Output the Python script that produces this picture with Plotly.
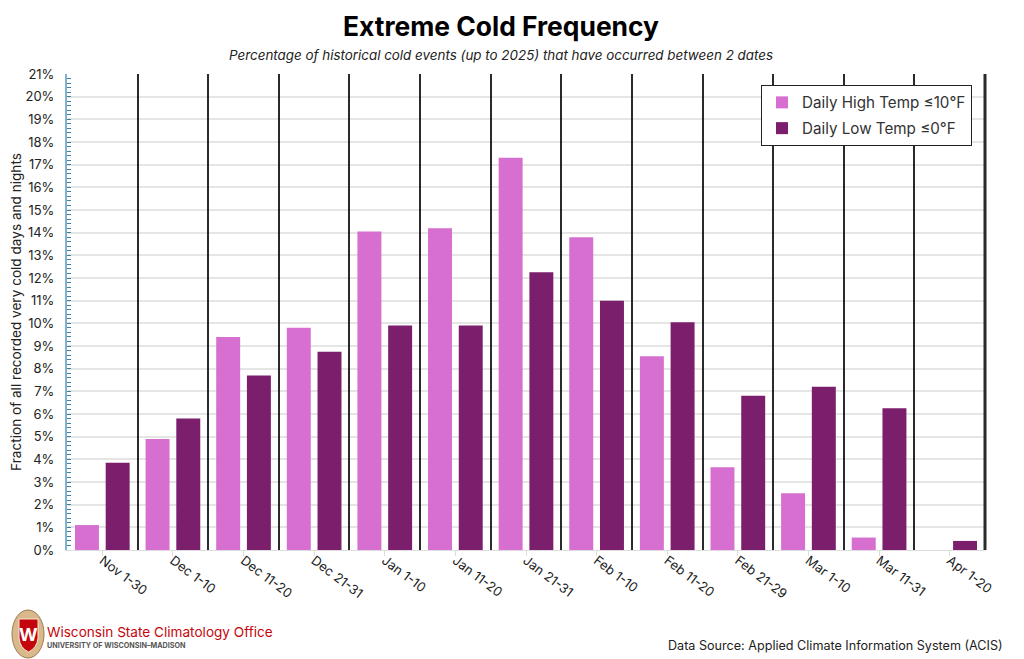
import plotly.graph_objects as go

categories = ["Nov 1-30","Dec 1-10","Dec 11-20","Dec 21-31","Jan 1-10","Jan 11-20","Jan 21-31","Feb 1-10","Feb 11-20","Feb 21-29","Mar 1-10","Mar 11-31","Apr 1-20"]
high_temp = [1.1,4.9,9.4,9.8,14.05,14.2,17.3,13.8,8.55,3.65,2.5,0.55,0]
low_temp = [3.85,5.8,7.7,8.75,9.9,9.9,12.25,11.0,10.05,6.8,7.2,6.25,0.4]
y_ticks = list(range(0,22))
y_labels = [f"{v}%" for v in y_ticks]
FONT = "Inter"
TEXT = "#222222"
xs = list(range(len(categories)))

# page pixel -> paper coordinate helpers for decoration placement
def px(x): return (x-67)/918
def py(y): return (550-y)/476

def note(text,x,y,size,color=TEXT,anchor="left"):
    return dict(text=text,xref="paper",yref="paper",x=px(x),y=py(y),xanchor=anchor,yanchor="middle",
                showarrow=False,font=dict(size=size,color=color,family=FONT),borderpad=0,borderwidth=0)

fig = go.Figure()
fig.add_bar(x=xs,y=high_temp,name="Daily High Temp ≤10°F",legendgroup="high",marker=dict(color="#d66fcf",line=dict(width=0)))
fig.add_bar(x=xs,y=low_temp,name="Daily Low Temp ≤0°F",legendgroup="low",marker=dict(color="#7b1f6d",line=dict(width=0)))

shield = "M {} {} L {} {} L {} {} Q {} {} {} {} Q {} {} {} {} Z".format(
    px(19),py(619),px(38),py(619),px(38),py(638),px(37),py(648),px(28.5),py(652),px(20),py(648),px(19),py(638))

shapes = [
    dict(type="line",xref="paper",yref="paper",x0=1,x1=1,y0=0,y1=1,line=dict(color="#2a2a2a",width=3)),
    dict(type="circle",xref="paper",yref="paper",x0=px(12),x1=px(44),y0=py(658),y1=py(610),fillcolor="#d9b98c",line=dict(color="#9c7b50",width=1)),
    dict(type="path",xref="paper",yref="paper",path=shield,fillcolor="#c5050c",line=dict(color="#f4e6cf",width=1)),
]

fig.update_layout(
    width=1016,height=651,autosize=False,margin=dict(l=59,r=39,t=66,b=109),
    paper_bgcolor="white",plot_bgcolor="white",
    barmode="group",bargap=0.13,bargroupgap=0.22,
    font=dict(family=FONT,color=TEXT,size=13),
    title=dict(text="<b>Extreme Cold Frequency</b>",x=(501-8)/1016,xanchor="center",y=1-(27-8)/651,yanchor="middle",font=dict(size=26.4,color="black",family=FONT)),
    legend=dict(x=px(761),y=py(85),xanchor="left",yanchor="top",bordercolor="#222",borderwidth=1,bgcolor="white",font=dict(size=15.2,color="#333"),itemsizing="constant",tracegroupgap=3),
    xaxis=dict(range=[-0.5,12.5],automargin=False,tickmode="array",tickvals=xs,ticktext=categories,tickangle=37,ticks="outside",ticklen=5,tickcolor="#dddddd",
               showgrid=False,showline=True,linecolor="#dddddd",linewidth=1,tickfont=dict(size=13,color=TEXT),ticklabelstandoff=-8,
               minor=dict(tick0=-0.5,dtick=1,showgrid=True,gridcolor="#2a2a2a",gridwidth=2,ticks="")),
    yaxis=dict(range=[0,21],automargin=False,tickmode="array",tickvals=y_ticks,ticktext=y_labels,ticks="inside",ticklen=4,tickcolor="#3f7f9f",tickwidth=1,
               gridcolor="rgba(0,0,0,0.1)",gridwidth=1.5,showline=True,linecolor="#7fb3cc",linewidth=2,zeroline=False,tickfont=dict(size=13,color=TEXT),ticklabelstandoff=8,
               title=dict(text="Fraction of all recorded very cold days and nights",font=dict(size=13.6,color=TEXT),standoff=11),
               minor=dict(tick0=0,dtick=0.2,ticks="inside",ticklen=4,tickcolor="#3f7f9f",showgrid=False)),
    shapes=shapes,
    annotations=[
        note("<i>Percentage of historical cold events (up to 2025) that have occurred between 2 dates</i>",501,55,13.4,anchor="center"),
        note("Data Source: Applied Climate Information System (ACIS)",1003,645,12.6,anchor="right"),
        note("Wisconsin State Climatology Office",47,632,13.6,color="#c5050c"),
        note("<b>UNIVERSITY OF WISCONSIN–MADISON</b>",47,645,7.2,color="#555555"),
        note("<b>W</b>",28.5,634,18,color="white",anchor="center"),
    ],
)
fig.write_html("out.html")
